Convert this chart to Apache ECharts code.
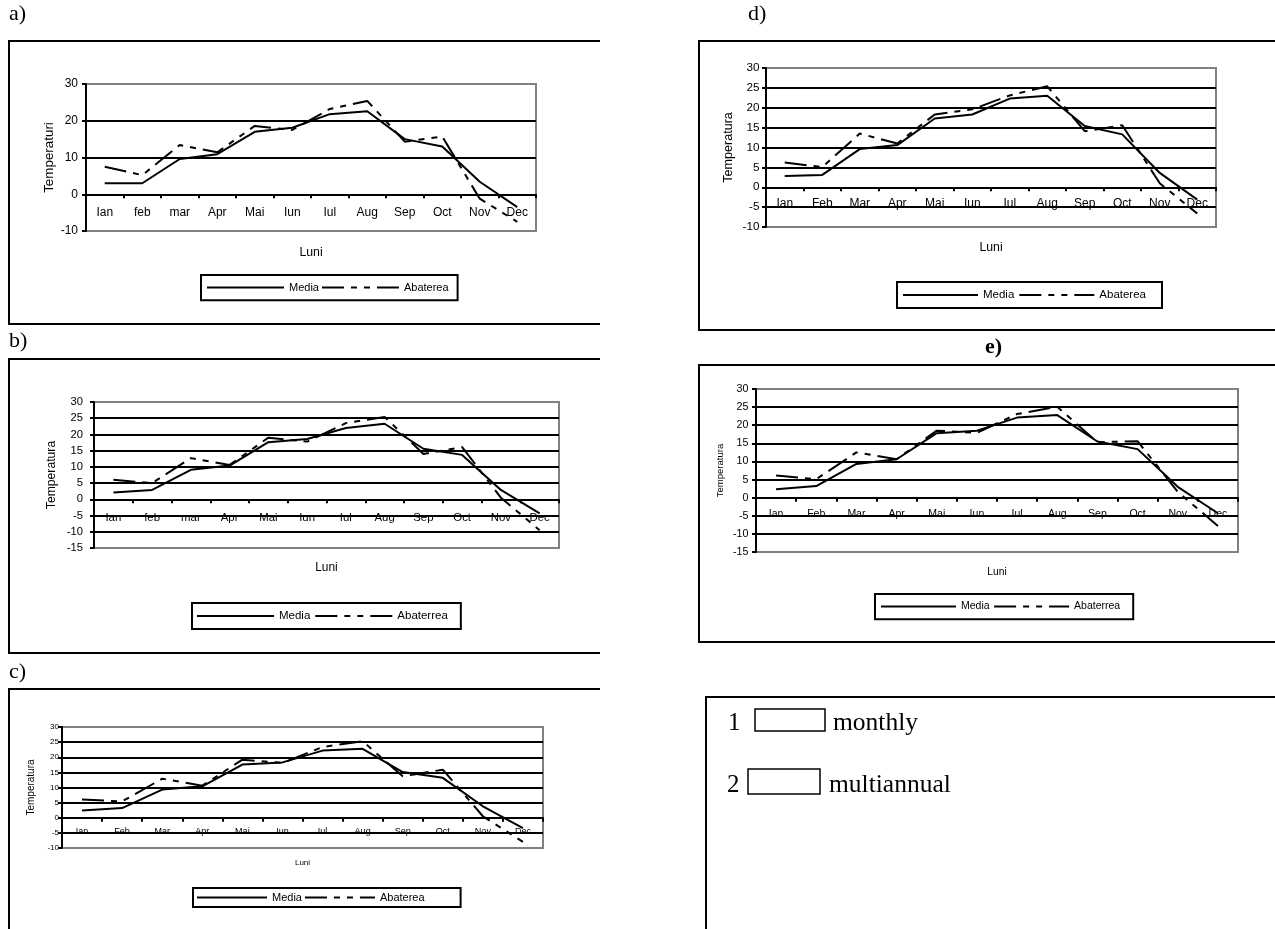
<!DOCTYPE html>
<html><head><meta charset="utf-8">
<script src="https://cdn.jsdelivr.net/npm/echarts@6/dist/echarts.min.js"></script>
<style>html,body{margin:0;padding:0;background:#fff}#c{width:1275px;height:929px}</style>
</head><body><div id="c"></div>
<script>
// ---- data ----
const monthsLower = ['Ian','feb','mar','Apr','Mai','Iun','Iul','Aug','Sep','Oct','Nov','Dec'];
const monthsUpper = ['Ian','Feb','Mar','Apr','Mai','Iun','Iul','Aug','Sep','Oct','Nov','Dec'];

const mediaA = [3, 3, 9.6, 10.9, 17, 18.1, 21.8, 22.6, 15, 13, 3.4, -3.5];
const abatA  = [7.5, 5.2, 13.4, 11.4, 18.6, 17.5, 23.2, 25.4, 14.3, 15.7, -1.2, -7.5];

const mediaB = [2.1, 2.9, 9.1, 10.4, 17.6, 18.6, 22, 23.3, 15.6, 13.7, 2.9, -4.3];
const abatB  = [6, 5, 12.7, 10.6, 19, 17.8, 23.5, 25.4, 14, 16.1, 0.5, -9.5];

const mediaC = [2.4, 3.2, 9.3, 10.4, 17.6, 18.3, 22.2, 22.8, 15.1, 13.2, 3.8, -3.4];
const abatC  = [6, 5.4, 12.9, 10.6, 19.2, 18.1, 23.4, 25.3, 13.7, 15.9, 0.5, -8];

const mediaD = [2.8, 3.1, 9.6, 10.6, 17.3, 18.3, 22.3, 23, 15.4, 13.3, 3.6, -3.1];
const abatD  = [6.2, 5.1, 13.5, 11, 18.3, 19.6, 23.1, 25.4, 14.1, 15.6, 1, -6.6];

const mediaE = [2.3, 3.2, 9.3, 10.6, 17.8, 18.5, 22.1, 22.8, 15.5, 13.4, 3, -4.3];
const abatE  = [6.1, 5.1, 12.5, 10.6, 18.5, 17.9, 23.1, 25.1, 15.3, 15.6, 1.6, -7.8];

const yRangeA = [-10, 30, 10];
const yRangeB = [-15, 30, 5];
const yRangeC = [-10, 30, 5];
const yRangeD = [-10, 30, 5];
const yRangeE = [-15, 30, 5];

const nameMedia = 'Media';
const nameAbat1 = 'Abaterea';
const nameAbat2 = 'Abaterrea';
const yNameA = 'Temperaturi';
const yNameOther = 'Temperatura';
const xName = 'Luni';
const boxTexts = ['monthly', 'multiannual'];

// ---- layout ----
const SANS = '"Liberation Sans", Arial, sans-serif';
const SERIF = '"Liberation Serif", "Times New Roman", serif';
const DASH = [22, 7, 6, 7, 6, 7];

const panels = [
  {cats: monthsLower, media: mediaA, abat: abatA, abatName: nameAbat1, yr: yRangeA, yName: yNameA,
   grid: [86, 84, 450, 147], catFs: 12, tickFs: 12, tickMargin: 8, catMargin: -24,
   yNameFs: 13.4, yNameGap: 30, xNameFs: 12.3, xNameGap: 16,
   legend: {left: 201, top: 275, itemWidth: 77, itemHeight: 14, itemGap: 2, padding: [7, 9, 7, 5], fs: 11}},
  {cats: monthsLower, media: mediaB, abat: abatB, abatName: nameAbat2, yr: yRangeB, yName: yNameOther,
   grid: [94, 402, 465, 146], catFs: 11.4, tickFs: 11.2, tickMargin: 11, catMargin: -36,
   yNameFs: 12.2, yNameGap: 36, xNameFs: 11.9, xNameGap: 14,
   legend: {left: 192, top: 603, itemWidth: 77, itemHeight: 15, itemGap: 4, padding: [7, 13, 7, 4], fs: 11.5}},
  {cats: monthsUpper, media: mediaC, abat: abatC, abatName: nameAbat1, yr: yRangeC, yName: yNameOther,
   grid: [62, 727, 481, 121], catFs: 9, tickFs: 8, tickMargin: 3, catMargin: -20.5,
   yNameFs: 10, yNameGap: 26, xNameFs: 8, xNameGap: 11,
   legend: {left: 193, top: 888, itemWidth: 70, itemHeight: 12, itemGap: 2, padding: [4, 36, 4, 3], fs: 11}},
  {cats: monthsUpper, media: mediaD, abat: abatD, abatName: nameAbat1, yr: yRangeD, yName: yNameOther,
   grid: [766, 68, 450, 159], catFs: 12, tickFs: 11.7, tickMargin: 6.5, catMargin: -29,
   yNameFs: 12.6, yNameGap: 31, xNameFs: 12.3, xNameGap: 14.5,
   legend: {left: 897, top: 282, itemWidth: 75, itemHeight: 15, itemGap: 4, padding: [7, 16, 7, 5], fs: 11.5}},
  {cats: monthsUpper, media: mediaE, abat: abatE, abatName: nameAbat2, yr: yRangeE, yName: yNameOther,
   grid: [756, 389, 482, 163], catFs: 10.5, tickFs: 10.7, tickMargin: 7.5, catMargin: -43,
   yNameFs: 9.5, yNameGap: 30.5, xNameFs: 10.3, xNameGap: 15,
   legend: {left: 875, top: 594, itemWidth: 75, itemHeight: 14, itemGap: 3.5, padding: [7, 13, 7, 5], fs: 10.5}}
];

const chart = echarts.init(document.getElementById('c'), null, {renderer: 'canvas'});

const grids = [], xAxes = [], yAxes = [], series = [], legends = [];
panels.forEach((p, i) => {
  grids.push({left: p.grid[0], top: p.grid[1], width: p.grid[2], height: p.grid[3],
    show: true, borderColor: '#808080', borderWidth: 2, backgroundColor: 'rgba(0,0,0,0)',
    containLabel: false, outerBoundsMode: 'none'});
  xAxes.push({type: 'category', gridIndex: i, data: p.cats, boundaryGap: true, z: 0,
    axisLine: {onZero: true, lineStyle: {color: '#000', width: 2}},
    axisTick: {show: true, length: 4, alignWithLabel: false, lineStyle: {color: '#000', width: 2}},
    axisLabel: {color: '#000', fontFamily: SANS, fontSize: p.catFs, margin: p.catMargin, interval: 0},
    splitLine: {show: false},
    name: xName, nameLocation: 'middle', nameGap: p.xNameGap,
    nameTextStyle: {color: '#000', fontFamily: SANS, fontSize: p.xNameFs}});
  yAxes.push({type: 'value', gridIndex: i, min: p.yr[0], max: p.yr[1], interval: p.yr[2], z: 1,
    axisLine: {show: true, lineStyle: {color: '#000', width: 2}},
    axisTick: {show: true, length: 4, lineStyle: {color: '#000', width: 2}},
    axisLabel: {color: '#000', fontFamily: SANS, fontSize: p.tickFs, margin: p.tickMargin},
    splitLine: {show: true, showMinLine: false, showMaxLine: false, lineStyle: {color: '#000', width: 2}},
    name: p.yName, nameLocation: 'middle', nameRotate: 90, nameGap: p.yNameGap,
    nameTextStyle: {color: '#000', fontFamily: SANS, fontSize: p.yNameFs}});
  series.push({type: 'line', name: nameMedia, xAxisIndex: i, yAxisIndex: i, data: p.media,
    symbol: 'none', z: 3, lineStyle: {color: '#000', width: 2, type: 'solid'}, itemStyle: {color: '#000'}});
  series.push({type: 'line', name: p.abatName, xAxisIndex: i, yAxisIndex: i, data: p.abat,
    symbol: 'none', z: 3, lineStyle: {color: '#000', width: 2, type: DASH}, itemStyle: {color: '#000'}});
  const L = p.legend;
  legends.push({data: [nameMedia, p.abatName], left: L.left, top: L.top, orient: 'horizontal',
    itemWidth: L.itemWidth, itemHeight: L.itemHeight, itemGap: L.itemGap, padding: L.padding,
    borderColor: '#000', borderWidth: 2, backgroundColor: '#fff', selectedMode: false,
    itemStyle: {color: 'rgba(0,0,0,0)', borderWidth: 0, opacity: 0},
    lineStyle: {color: '#000', width: 2},
    textStyle: {color: '#000', fontFamily: SANS, fontSize: L.fs}});
});

// open frames (right side runs off / is cut in the source)
function openFrame(x1, y1, x2, y2) {
  return {type: 'polyline', shape: {points: [[x2, y1], [x1, y1], [x1, y2], [x2, y2]]},
    style: {fill: 'none', stroke: '#000', lineWidth: 2}, silent: true, z: 0};
}
function label(x, y, t, fs, bold, va) {
  return {type: 'text', x: x, y: y, silent: true,
    style: {text: t, fill: '#000', font: (bold ? 'bold ' : '') + fs + 'px ' + SERIF, verticalAlign: va || 'top'}};
}

const graphics = [
  openFrame(9, 41, 600, 324),
  openFrame(9, 359, 600, 653),
  openFrame(9, 689, 600, 960),
  openFrame(699, 41, 1290, 330),
  openFrame(699, 365, 1290, 642),
  openFrame(706, 697, 1290, 960),
  label(9, 3, 'a)', 22),
  label(9, 330, 'b)', 22),
  label(9, 661, 'c)', 22),
  label(748, 3, 'd)', 22),
  label(985, 336, 'e)', 22, true),
  label(728, 723, '1', 25, false, 'middle'),
  {type: 'rect', shape: {x: 755, y: 709, width: 70, height: 22}, style: {fill: 'none', stroke: '#000', lineWidth: 1.5}, silent: true},
  label(833, 723, boxTexts[0], 25.5, false, 'middle'),
  label(727, 785, '2', 25, false, 'middle'),
  {type: 'rect', shape: {x: 748, y: 769, width: 72, height: 25}, style: {fill: 'none', stroke: '#000', lineWidth: 1.5}, silent: true},
  label(829, 785, boxTexts[1], 25.5, false, 'middle')
];

chart.setOption({
  animation: false,
  backgroundColor: '#fff',
  grid: grids, xAxis: xAxes, yAxis: yAxes, series: series, legend: legends,
  graphic: {elements: graphics}
});
</script></body></html>
